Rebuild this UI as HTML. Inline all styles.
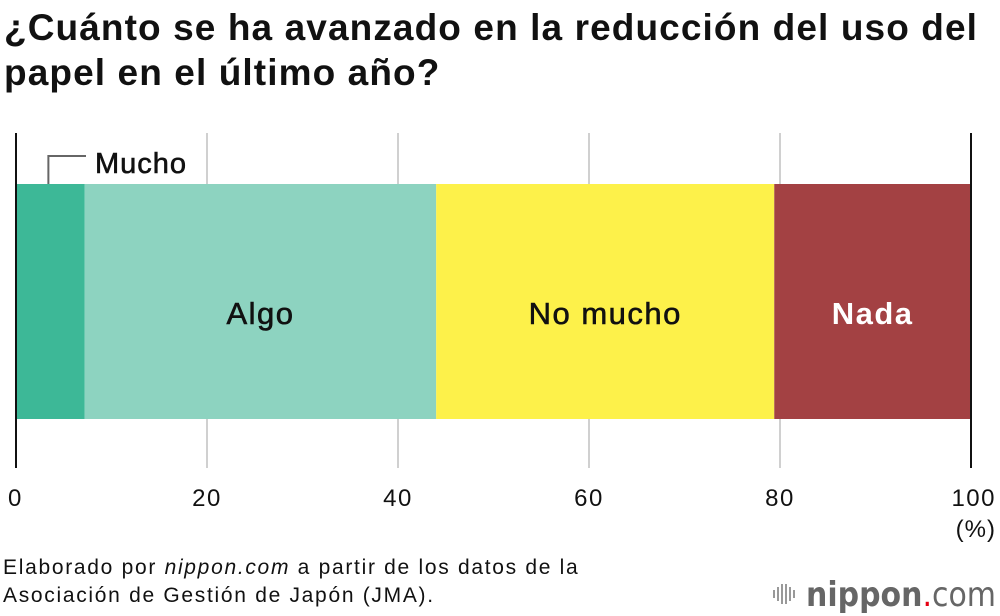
<!DOCTYPE html>
<html><head><meta charset="utf-8"><style>
html,body{margin:0;padding:0;background:#fff;}
body{width:1000px;height:616px;overflow:hidden;position:relative;font-family:"Liberation Sans",sans-serif;}
.title{position:absolute;left:4px;top:5px;font-size:37px;font-weight:bold;line-height:45px;color:#111;letter-spacing:1.1px;white-space:nowrap;}
.src{position:absolute;left:3px;top:554px;font-size:21px;line-height:28px;color:#111;letter-spacing:1.7px;white-space:nowrap;}
</style></head><body>
<div class="title">¿Cuánto se ha avanzado en la reducción del uso del<br>papel en el último año?</div>
<svg id="chart" width="1000" height="616" style="position:absolute;left:0;top:0"></svg>
<div class="src">Elaborado por <i>nippon.com</i> a partir de los datos de la<br>Asociación de Gestión de Japón (JMA).</div>
<script>
const categories = ["Mucho","Algo","No mucho","Nada"];
const values = [7.2, 36.8, 35.4, 20.6];
const colors = ["#3db897","#8dd3c0","#fdf14a","#a34143"];
const labelColors = ["#111","#111","#111","#fff"];
const ticks = [0,20,40,60,80,100];
const NS="http://www.w3.org/2000/svg";
const svg=document.getElementById('chart');
const x0=16,x1=971,yTop=184,yBot=419;
function xs(v){return x0+(x1-x0)*v/100;}
function mk(t,a){const e=document.createElementNS(NS,t);for(const k in a)e.setAttribute(k,a[k]);svg.appendChild(e);return e;}
const FF='Liberation Sans, sans-serif';
ticks.forEach(t=>{
  const l=mk('line',{x1:xs(t),x2:xs(t),y1:133,y2:468,stroke:'#d0d0d0','stroke-width':2});
  
  
  const tx=mk('text',{x:xs(t),y:506,'text-anchor':t===100?'end':(t===0?'start':'middle'),'font-size':24,fill:'#111','font-family':FF,'letter-spacing':1.5});
  if(t===100)tx.setAttribute('x',xs(t)+25);
  if(t===0)tx.setAttribute('x',xs(t)-8);
  tx.textContent=t;
  
  
});
const pct=mk('text',{x:996,y:537,'text-anchor':'end','font-size':24,fill:'#111','font-family':FF,'letter-spacing':1});
pct.textContent='(%)';


let cum=0;
values.forEach((v,i)=>{
  const r=mk('rect',{x:xs(cum),y:yTop,width:xs(cum+v)-xs(cum),height:yBot-yTop,fill:colors[i]});
  
  
  if(i>0){
    const t=mk('text',{x:(xs(cum)+xs(cum+v))/2,y:324,'text-anchor':'middle','font-size':31,fill:labelColors[i],'font-weight':i===3?'bold':'normal','font-family':FF,'letter-spacing':1.5,'stroke':labelColors[i],'stroke-width':i===3?0:0.6});
    t.textContent=categories[i];
    
    
  } else {
    const mx=(xs(0)+xs(v))/2-2;
    const p=mk('polyline',{points:`${mx},${yTop} ${mx},156 86,156`,fill:'none',stroke:'#666','stroke-width':2});
    
    
    const t=mk('text',{x:95,y:173,'font-size':29,fill:'#111','font-family':FF,'letter-spacing':1,'stroke':'#111','stroke-width':0.6});
    t.textContent=categories[i];
    
    
  }
  cum+=v;
});
[0,100].forEach(t=>{const l=mk('line',{x1:xs(t),x2:xs(t),y1:133,y2:468,stroke:'#111','stroke-width':2});

});
const g=document.createElementNS(NS,'g');svg.appendChild(g);


[[773,8],[777,14],[781,20],[785,20],[789,14],[793,8]].forEach(([x,h])=>{const b=document.createElementNS(NS,'rect');b.setAttribute('x',x);b.setAttribute('y',594-h/2);b.setAttribute('width',2);b.setAttribute('height',h);b.setAttribute('fill','#999');g.appendChild(b);});
const lt=document.createElementNS(NS,'text');lt.setAttribute('x',806);lt.setAttribute('y',606);lt.setAttribute('font-size',34);lt.setAttribute('fill','#666');lt.setAttribute('font-family','DejaVu Sans, sans-serif');
lt.setAttribute('textLength','190');lt.setAttribute('lengthAdjust','spacingAndGlyphs');
lt.innerHTML='<tspan font-weight="bold">nippon</tspan><tspan fill="#e60012">.</tspan><tspan>com</tspan>';
g.appendChild(lt);
</script>
</body></html>
